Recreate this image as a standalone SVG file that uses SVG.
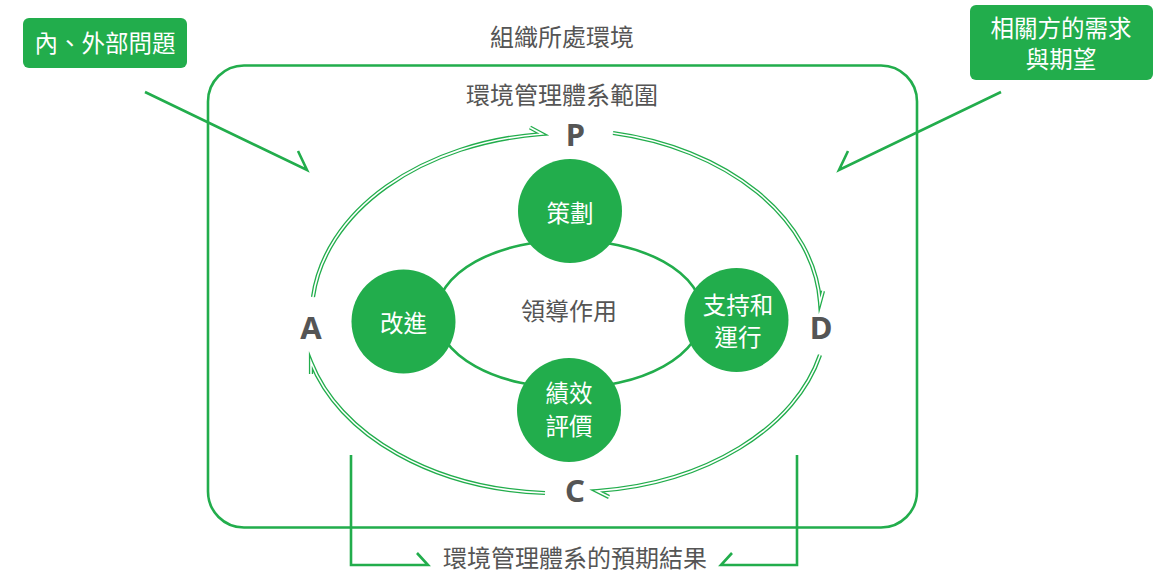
<svg xmlns="http://www.w3.org/2000/svg" width="1164" height="574" viewBox="0 0 1164 574">
<style>
.t{font-family:"Noto Sans CJK TC","Noto Sans",sans-serif;font-size:24px;fill:#555;text-anchor:middle}
.w{font-family:"Noto Sans CJK TC","Noto Sans",sans-serif;font-size:23.5px;fill:#fff;text-anchor:middle}
.L{font-family:"Noto Sans","Open Sans",sans-serif;font-weight:bold;font-size:31px;fill:#555;text-anchor:middle}
.g{fill:#22ad4c}
.solid{fill:none;stroke:#22ad4c;stroke-width:2.6}
.dbo{fill:none;stroke:#22ad4c;stroke-width:4.2;stroke-linejoin:miter;stroke-miterlimit:10}
.dbi{fill:none;stroke:#fff;stroke-width:1.6;stroke-linejoin:miter;stroke-miterlimit:10}
</style>
<rect width="1164" height="574" fill="#fff"/>
<g id="scope-outer">
<text class="t" x="562" y="46">組織所處環境</text>
<rect x="208" y="65.5" width="709" height="462" rx="36" class="solid"/>
<text class="t" x="562" y="104">環境管理體系範圍</text>
</g>
<g id="issues">
<rect x="23" y="18" width="164" height="50" rx="6" class="g"/>
<text class="w" x="105" y="52">內、外部問題</text>
</g>
<g id="needs">
<rect x="970" y="5" width="183" height="75" rx="6" class="g"/>
<text class="w" x="1061" y="37">相關方的需求</text>
<text class="w" x="1061" y="68">與期望</text>
</g>
<g id="connectors">
<ellipse cx="569.5" cy="314" rx="133" ry="74" class="solid"/>
<path d="M145,92 L307,170 L298,151" class="solid"/>
<path d="M1001,92 L839,170 L848,151" class="solid"/>
<path d="M351,455 V565 H428 L417,553" class="solid"/>
<path d="M797,455 V565 H721 L732,553" class="solid"/>
<g id="cycle-arrows">
<path id="ap" d="M313,297 A256 182 0 0 1 542,134 L530,127.5" class="dbo"/>
<path id="pd" d="M613,133 A256 182 0 0 1 820,302 L823,291" class="dbo"/>
<path id="dc" d="M820,355 A256 178 0 0 1 597,491 L609,497" class="dbo"/>
<path id="ca" d="M545,493 A256 178 0 0 1 311,362 L311,374" class="dbo"/>
<path d="M313,297 A256 182 0 0 1 542,134 L530,127.5" class="dbi"/>
<path d="M613,133 A256 182 0 0 1 820,302 L823,291" class="dbi"/>
<path d="M820,355 A256 178 0 0 1 597,491 L609,497" class="dbi"/>
<path d="M545,493 A256 178 0 0 1 311,362 L311,374" class="dbi"/>
</g>
</g>
<g id="leadership"><text class="t" x="569" y="320">領導作用</text></g>
<g id="plan">
<circle cx="570" cy="211" r="52" class="g"/>
<text class="w" x="570" y="222">策劃</text>
</g>
<g id="act">
<circle cx="403.5" cy="321.5" r="52" class="g"/>
<text class="w" x="403.5" y="332">改進</text>
</g>
<g id="do">
<circle cx="736.5" cy="320" r="52" class="g"/>
<text class="w" x="738" y="314">支持和</text>
<text class="w" x="738" y="346">運行</text>
</g>
<g id="check">
<circle cx="569" cy="410" r="52" class="g"/>
<text class="w" x="569" y="402">績效</text>
<text class="w" x="569" y="435">評價</text>
</g>
<g id="letters">
<text class="L" x="575.5" y="146">P</text>
<text class="L" x="311" y="339">A</text>
<text class="L" x="821" y="339">D</text>
<text class="L" x="575" y="502">C</text>
</g>
<g id="results"><text class="t" x="575" y="566.5">環境管理體系的預期結果</text></g>
</svg>
